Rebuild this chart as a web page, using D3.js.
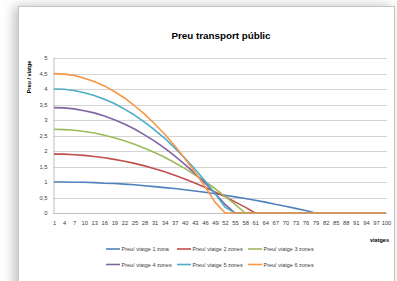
<!DOCTYPE html>
<html>
<head>
<meta charset="utf-8">
<script src="https://cdn.jsdelivr.net/npm/d3@7"></script>
<style>
  html, body { margin: 0; padding: 0; background: #fff; }
  svg { display: block; }
</style>
</head>
<body>
<div id="chart"></div>
<script>
// categories shown on the axis (every third trip count)
const trips = [1, 4, 7, 10, 13, 16, 19, 22, 25, 28, 31, 34, 37, 40, 43, 46, 49, 52, 55, 58, 61, 64, 67, 70, 73, 76, 79, 82, 85, 88, 91, 94, 97, 100];

const zona1 = [1.0, 1.0, 0.99, 0.99, 0.98, 0.96, 0.95, 0.93, 0.91, 0.88, 0.85, 0.82, 0.79, 0.75, 0.71, 0.67, 0.62, 0.57, 0.52, 0.47, 0.41, 0.35, 0.28, 0.22, 0.15, 0.08, 0, 0, 0, 0, 0, 0, 0, 0];
const zones2 = [1.9, 1.9, 1.88, 1.86, 1.82, 1.78, 1.73, 1.67, 1.6, 1.52, 1.43, 1.33, 1.22, 1.1, 0.97, 0.83, 0.68, 0.53, 0.36, 0.19, 0, 0, 0, 0, 0, 0, 0, 0, 0, 0, 0, 0, 0, 0];
const zones3 = [2.7, 2.69, 2.67, 2.63, 2.58, 2.51, 2.43, 2.33, 2.22, 2.09, 1.95, 1.8, 1.62, 1.44, 1.23, 1.02, 0.79, 0.54, 0.28, 0, 0, 0, 0, 0, 0, 0, 0, 0, 0, 0, 0, 0, 0, 0];
const zones4 = [3.4, 3.39, 3.36, 3.3, 3.23, 3.13, 3.01, 2.87, 2.71, 2.52, 2.32, 2.09, 1.84, 1.57, 1.28, 0.97, 0.63, 0.28, 0, 0, 0, 0, 0, 0, 0, 0, 0, 0, 0, 0, 0, 0, 0, 0];
const zones5 = [4.0, 3.99, 3.95, 3.88, 3.79, 3.67, 3.53, 3.35, 3.16, 2.93, 2.68, 2.41, 2.1, 1.77, 1.42, 1.04, 0.63, 0.19, 0, 0, 0, 0, 0, 0, 0, 0, 0, 0, 0, 0, 0, 0, 0, 0];
const zones6 = [4.5, 4.48, 4.44, 4.35, 4.24, 4.1, 3.92, 3.71, 3.46, 3.19, 2.88, 2.54, 2.17, 1.76, 1.32, 0.86, 0.35, 0, 0, 0, 0, 0, 0, 0, 0, 0, 0, 0, 0, 0, 0, 0, 0, 0];

const seriesNames = ["Preu/ viatge 1 zona", "Preu/ viatge 2 zones", "Preu/ viatge 3 zones", "Preu/ viatge 4 zones", "Preu/ viatge 5 zones", "Preu/ viatge 6 zones"];
const yTicks = [0, 0.5, 1, 1.5, 2, 2.5, 3, 3.5, 4, 4.5, 5];

const colors = ["#4F81BD", "#C0504D", "#9BBB59", "#8064A2", "#4BACC6", "#F79646"];
const allSeries = [zona1, zones2, zones3, zones4, zones5, zones6];

const width = 397, height = 281;
const font = "'Liberation Sans', Arial, sans-serif";

const svg = d3.select("#chart").append("svg")
  .attr("width", width)
  .attr("height", height);

// card with soft shadow
const defs = svg.append("defs");
const shadow = defs.append("filter").attr("id", "shadow")
  .attr("x", "-15%").attr("y", "-15%").attr("width", "130%").attr("height", "130%");
shadow.append("feDropShadow")
  .attr("dx", -4).attr("dy", 0).attr("stdDeviation", 6)
  .attr("flood-color", "#000").attr("flood-opacity", 0.25);

svg.append("rect")
  .attr("x", 18.5).attr("y", 6.5)
  .attr("width", 376).attr("height", 300)
  .attr("fill", "#fff")
  .attr("stroke", "#c4c4c4")
  .attr("filter", "url(#shadow)");

const x = d3.scaleLinear().domain([1, 100]).range([54, 386]);
const y = d3.scaleLinear().domain([0, 5]).range([213, 58]);

// gridlines
svg.append("g")
  .selectAll("line")
  .data(yTicks.slice(1))
  .join("line")
  .attr("x1", 53).attr("x2", 387)
  .attr("y1", d => Math.round(y(d)) + 0.5)
  .attr("y2", d => Math.round(y(d)) + 0.5)
  .attr("stroke", "#d4d4d4");

// y axis
const yAxis = svg.append("g")
  .attr("transform", "translate(53.5,0)")
  .call(d3.axisLeft(y).tickValues(yTicks).tickSize(0).tickPadding(6)
    .tickFormat(d => String(d).replace(".", ",")));
yAxis.select(".domain").attr("stroke", "#bfbfbf");
yAxis.selectAll("text")
  .attr("font-family", font).attr("font-size", 5.8).attr("fill", "#404040");

// x axis
const xAxis = svg.append("g")
  .attr("transform", "translate(0,213.5)")
  .call(d3.axisBottom(x).tickValues(trips).tickSize(0).tickPadding(7));
xAxis.select(".domain").attr("stroke", "#bfbfbf").attr("d", "M53,0H387");
xAxis.selectAll("text")
  .attr("font-family", font).attr("font-size", 5.8).attr("fill", "#404040");

// lines
const line = d3.line()
  .x((d, i) => x(trips[i]))
  .y(d => y(d));

svg.append("g")
  .selectAll("path")
  .data(allSeries)
  .join("path")
  .attr("d", line)
  .attr("fill", "none")
  .attr("stroke", (d, i) => colors[i])
  .attr("stroke-width", 1.6)
  .attr("stroke-linejoin", "round");

// titles
svg.append("text")
  .attr("x", 221).attr("y", 39)
  .attr("text-anchor", "middle")
  .attr("font-family", font).attr("font-size", 9.8).attr("font-weight", "bold")
  .attr("fill", "#000")
  .text("Preu transport públic");

svg.append("text")
  .attr("transform", "translate(31,77) rotate(-90)")
  .attr("text-anchor", "middle")
  .attr("font-family", font).attr("font-size", 5.5).attr("font-weight", "bold")
  .attr("fill", "#000")
  .text("Preu / viatge");

svg.append("text")
  .attr("x", 389).attr("y", 242)
  .attr("text-anchor", "end")
  .attr("font-family", font).attr("font-size", 5.5).attr("font-weight", "bold")
  .attr("fill", "#000")
  .text("viatges");

// legend
const legendX = [106, 177, 248];
const legendY = [249, 264.5];
const legend = svg.append("g");
seriesNames.forEach((name, i) => {
  const lx = legendX[i % 3];
  const ly = legendY[Math.floor(i / 3)];
  legend.append("line")
    .attr("x1", lx).attr("x2", lx + 14)
    .attr("y1", ly).attr("y2", ly)
    .attr("stroke", colors[i]).attr("stroke-width", 1.6);
  legend.append("text")
    .attr("x", lx + 15.5).attr("y", ly)
    .attr("dominant-baseline", "central")
    .attr("font-family", font).attr("font-size", 5.5).attr("fill", "#404040")
    .text(name);
});
</script>
</body>
</html>
